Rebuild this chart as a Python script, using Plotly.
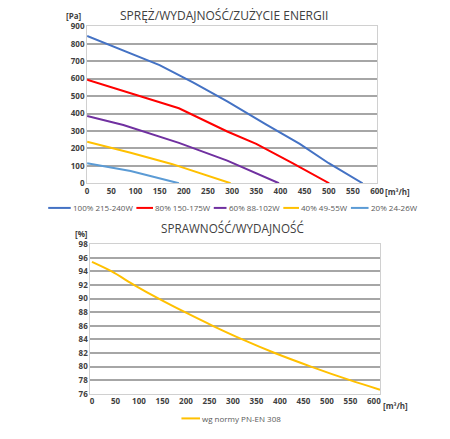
import plotly.graph_objects as go

# Top chart: pressure [Pa] vs airflow [m3/h] for each fan setting
series_names = ["100% 215-240W", "80% 150-175W", "60% 88-102W", "40% 49-55W", "20% 24-26W"]
series_colors = ["#4472C4", "#FF0000", "#7030A0", "#FFC000", "#5B9BD5"]

flow_100 = [0, 50, 150, 220, 290, 370, 440, 500, 570]
pa_100 = [845, 790, 678, 577, 470, 338, 226, 115, 0]
flow_80 = [0, 100, 190, 290, 350, 425, 501]
pa_80 = [594, 510, 430, 297, 226, 115, 0]
flow_60 = [0, 75, 190, 290, 397]
pa_60 = [386, 334, 232, 130, 0]
flow_40 = [0, 90, 175, 297]
pa_40 = [238, 175, 111, 0]
flow_20 = [0, 90, 190]
pa_20 = [115, 70, 0]

# Bottom chart: efficiency [%] vs airflow
eff_flow = [0, 42, 90, 142, 198, 257, 320, 389, 466, 549, 613]
eff_pct = [95.4, 94, 92, 90, 88, 86, 84, 82, 80, 78, 76.6]
eff_name = "wg normy PN-EN 308"

flow_ticks = list(range(0, 601, 50))

# the page body adds an 8px margin, so the figure is shrunk and shifted by that
OFF = 8
W, H = 450 - OFF, 439 - OFF
def px(x):
    return (x - OFF) / W
def py(y):
    return 1 - (y - OFF) / H

fig = go.Figure()

flows = [flow_100, flow_80, flow_60, flow_40, flow_20]
pas = [pa_100, pa_80, pa_60, pa_40, pa_20]
for name, color, fx, fy in zip(series_names, series_colors, flows, pas):
    fig.add_trace(go.Scatter(x=fx, y=fy, mode="lines", name=name, line=dict(color=color, width=2),
                             xaxis="x", yaxis="y", showlegend=False))

fig.add_trace(go.Scatter(x=eff_flow, y=eff_pct, mode="lines", name=eff_name,
                         line=dict(color="#FFC000", width=2, shape="spline", smoothing=0.8),
                         xaxis="x2", yaxis="y2", showlegend=False))

tickfont = dict(family="Open Sans", size=8, color="#404040", weight="bold")
grid = dict(showgrid=True, gridcolor="#a6a6a6", gridwidth=1.5, zeroline=False,
            showline=True, linecolor="#d0d0d0", linewidth=1, mirror=True, tickfont=tickfont, ticks="")

fig.update_layout(
    width=W, height=H,
    margin=dict(l=0, r=0, t=0, b=0),
    paper_bgcolor="white", plot_bgcolor="white",
    font=dict(family="Open Sans", size=8, color="#595959"),
    xaxis=dict(domain=[px(86.7), px(382.7)], range=[0, 600], tickvals=flow_ticks, anchor="y", **grid),
    yaxis=dict(domain=[py(181.7), py(20.7)], range=[0, 900], dtick=100, anchor="x", **grid),
    xaxis2=dict(domain=[px(90), px(385.7)], range=[-3.5, 613], tickvals=flow_ticks, anchor="y2", **grid),
    yaxis2=dict(domain=[py(397.7), py(244.3)], range=[76, 98], dtick=2, anchor="x2", **grid),
)
fig.update_xaxes(showgrid=False)

# Titles and unit labels
ann = [
    dict(text="SPRĘŻ/WYDAJNOŚĆ/ZUŻYCIE ENERGII", x=px(226.5), y=py(10), font=dict(family="Open Sans", size=12, color="#404040")),
    dict(text="SPRAWNOŚĆ/WYDAJNOŚĆ", x=px(235), y=py(228), font=dict(family="Open Sans", size=11.7, color="#404040")),
    dict(text="[Pa]", x=px(73), y=py(10), font=tickfont),
    dict(text="[m³/h]", x=px(404), y=py(190), font=tickfont),
    dict(text="[%]", x=px(81), y=py(233.5), font=tickfont),
    dict(text="[m³/h]", x=px(402), y=py(410), font=tickfont),
]
for a in ann:
    fig.add_annotation(xref="paper", yref="paper", showarrow=False, xanchor="center", yanchor="middle", **a)

# Legend keys drawn below each chart (line start, text start)
legfont = dict(family="Open Sans", size=8, color="#595959")
key_lines = [47, 137, 216, 287, 356]
key_texts = [70, 154, 229, 303, 374]
for name, color, x0, xt in zip(series_names, series_colors, key_lines, key_texts):
    fig.add_shape(type="line", xref="paper", yref="paper", x0=px(x0), x1=px(xt), y0=py(207), y1=py(207),
                  line=dict(color=color, width=2))
    fig.add_annotation(xref="paper", yref="paper", showarrow=False, x=px(xt), y=py(207), xanchor="left",
                       yanchor="middle", text=name, font=legfont)

fig.add_shape(type="line", xref="paper", yref="paper", x0=px(183), x1=px(202), y0=py(423), y1=py(423),
              line=dict(color="#FFC000", width=2))
fig.add_annotation(xref="paper", yref="paper", showarrow=False, x=px(202), y=py(423), xanchor="left",
                   yanchor="middle", text=eff_name, font=legfont)

fig.write_html("out.html")
